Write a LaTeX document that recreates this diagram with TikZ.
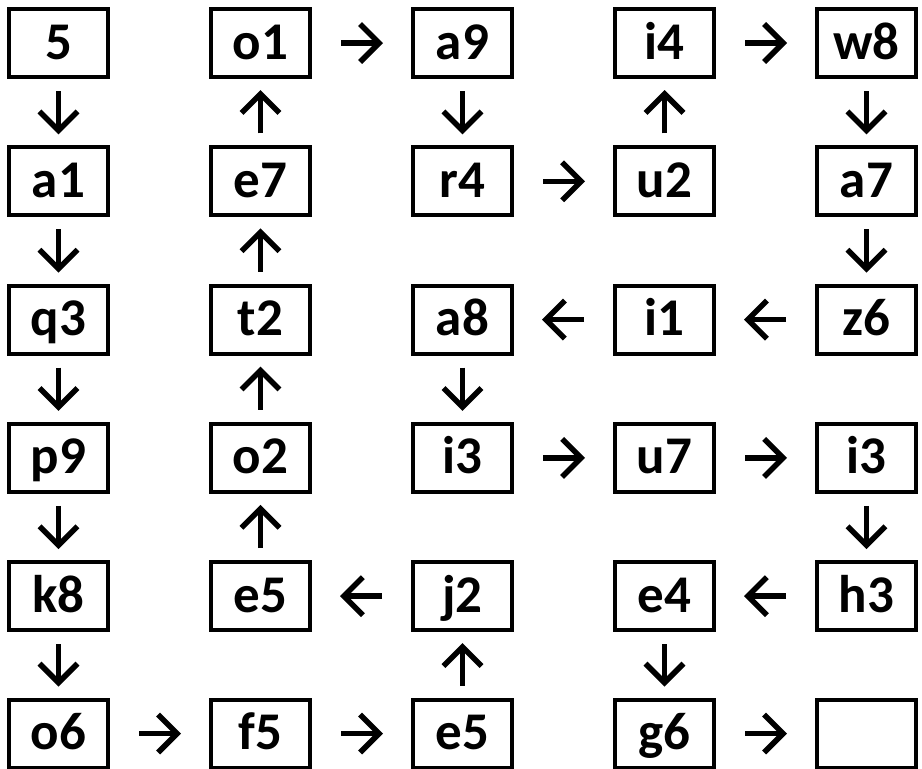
\documentclass[tikz,border=0pt]{standalone}
\usepackage{fontspec}
\setmainfont{Carlito}
\usetikzlibrary{arrows.meta}

\begin{document}
\begin{tikzpicture}[x=1pt,y=-1pt,font=\fontsize{53}{53}\selectfont\bfseries]
        \tikzset{
            cell/.style={
                draw=black,
                line width=4pt,
                minimum width=99pt,
                minimum height=68pt,
                inner sep=0pt,
                text height=43pt,
                text depth=11pt,
                anchor=center
            },
            flow/.style={
                line width=5.5pt,
                draw=black,
                -{Straight Barb[length=19pt,width=38pt]}
            },
            flowdown/.style={flow,shorten <=12pt,shorten >=11pt},
            flowside/.style={flow,shorten <=29pt,shorten >=28pt}
        }
        \useasboundingbox (0,0) rectangle (922,769);

        % row 1
        \node[cell] (n11) at (58.5,43) {5};
        \node[cell] (n12) at (260.5,43) {o1};
        \node[cell] (n13) at (462.5,43) {a9};
        \node[cell] (n14) at (664.5,43) {i4};
        \node[cell] (n15) at (866.5,43) {w8};
        % row 2
        \node[cell] (n21) at (58.5,181.3) {a1};
        \node[cell] (n22) at (260.5,181.3) {e7};
        \node[cell] (n23) at (462.5,181.3) {r4};
        \node[cell] (n24) at (664.5,181.3) {u2};
        \node[cell] (n25) at (866.5,181.3) {a7};
        % row 3
        \node[cell] (n31) at (58.5,319.6) {q3};
        \node[cell] (n32) at (260.5,319.6) {t2};
        \node[cell] (n33) at (462.5,319.6) {a8};
        \node[cell] (n34) at (664.5,319.6) {i1};
        \node[cell] (n35) at (866.5,319.6) {z6};
        % row 4
        \node[cell] (n41) at (58.5,457.9) {p9};
        \node[cell] (n42) at (260.5,457.9) {o2};
        \node[cell] (n43) at (462.5,457.9) {i3};
        \node[cell] (n44) at (664.5,457.9) {u7};
        \node[cell] (n45) at (866.5,457.9) {i3};
        % row 5
        \node[cell] (n51) at (58.5,596.2) {k8};
        \node[cell] (n52) at (260.5,596.2) {e5};
        \node[cell] (n53) at (462.5,596.2) {j2};
        \node[cell] (n54) at (664.5,596.2) {e4};
        \node[cell] (n55) at (866.5,596.2) {h3};
        % row 6
        \node[cell] (n61) at (58.5,733.5) {o6};
        \node[cell] (n62) at (260.5,733.5) {f5};
        \node[cell] (n63) at (462.5,733.5) {e5};
        \node[cell] (n64) at (664.5,733.5) {g6};
        \node[cell] (n65) at (866.5,733.5) {};

        % vertical steps
        \draw[flowdown] (n11) -- (n21);
        \draw[flowdown] (n21) -- (n31);
        \draw[flowdown] (n31) -- (n41);
        \draw[flowdown] (n41) -- (n51);
        \draw[flowdown] (n51) -- (n61);
        \draw[flowdown] (n22) -- (n12);
        \draw[flowdown] (n32) -- (n22);
        \draw[flowdown] (n42) -- (n32);
        \draw[flowdown] (n52) -- (n42);
        \draw[flowdown] (n13) -- (n23);
        \draw[flowdown] (n33) -- (n43);
        \draw[flowdown] (n63) -- (n53);
        \draw[flowdown] (n24) -- (n14);
        \draw[flowdown] (n54) -- (n64);
        \draw[flowdown] (n15) -- (n25);
        \draw[flowdown] (n25) -- (n35);
        \draw[flowdown] (n45) -- (n55);

        % horizontal steps
        \draw[flowside] (n12) -- (n13);
        \draw[flowside] (n14) -- (n15);
        \draw[flowside] (n23) -- (n24);
        \draw[flowside] (n35) -- (n34);
        \draw[flowside] (n34) -- (n33);
        \draw[flowside] (n43) -- (n44);
        \draw[flowside] (n44) -- (n45);
        \draw[flowside] (n53) -- (n52);
        \draw[flowside] (n55) -- (n54);
        \draw[flowside] (n61) -- (n62);
        \draw[flowside] (n62) -- (n63);
        \draw[flowside] (n64) -- (n65);
    \end{tikzpicture}
\end{document}
